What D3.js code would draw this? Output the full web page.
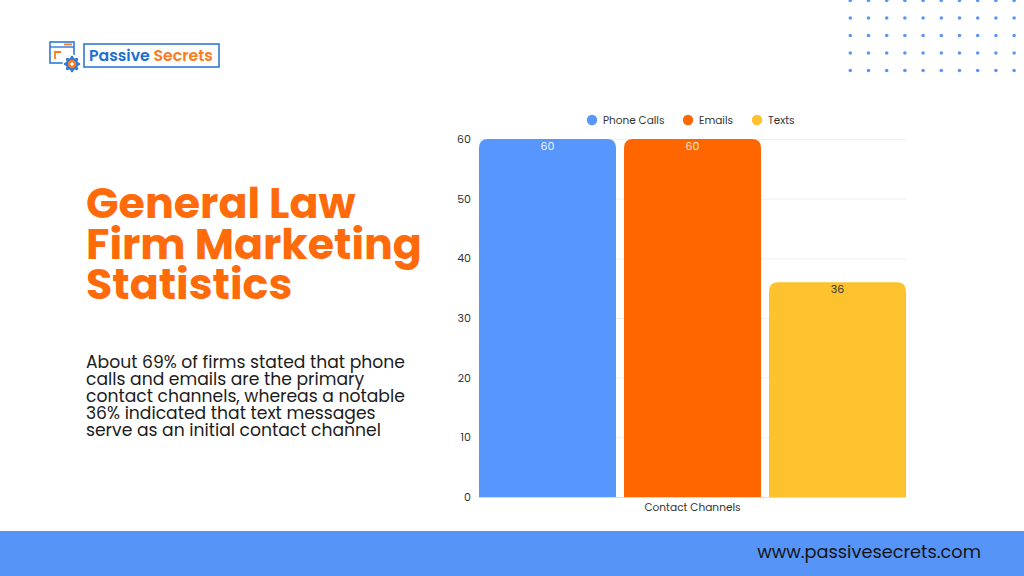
<!DOCTYPE html>
<html><head><meta charset="utf-8">
<script src="https://cdn.jsdelivr.net/npm/d3@7"></script>
<style>
html,body{margin:0;padding:0;background:#fff;}
svg{display:block;}
</style></head>
<body>
<svg id="c" width="1024" height="576"></svg>
<script>
const categories = ["Contact Channels"];
const seriesNames = ["Phone Calls", "Emails", "Texts"];
const seriesValues = [60, 60, 36];
const seriesColors = ["#5796FD", "#FF6600", "#FFC22F"];
const labelColors = ["#EEF3FF", "#FFE9DA", "#333333"];
const yTicks = [0, 10, 20, 30, 40, 50, 60];
const titleLines = ["General Law", "Firm Marketing", "Statistics"];
const bodyLines = ["About 69% of firms stated that phone", "calls and emails are the primary", "contact channels, whereas a notable", "36% indicated that text messages", "serve as an initial contact channel"];
const footerText = "www.passivesecrets.com";

const svg = d3.select("#c");
const FONT = "Poppins, 'Open Sans', Lato, sans-serif";

function fitWidth(sel, target) {
  const n = sel.node();
  const w = n.getComputedTextLength();
  const fs = +sel.attr("font-size");
  sel.attr("font-size", fs * target / w);
}

// decorative dots
const dotCols = d3.range(10), dotRows = d3.range(5);
const dg = svg.append("g");
dotRows.forEach(r => dotCols.forEach(c => {
  dg.append("circle").attr("cx", 850.3 + c * 18.2).attr("cy", 0.5 + r * 17.5).attr("r", 1.8).attr("fill", "#5B96F7");
}));

// footer
svg.append("rect").attr("x", 0).attr("y", 531).attr("width", 1024).attr("height", 45).attr("fill", "#5794F7");
const ft = svg.append("text").attr("x", 981).attr("y", 558).attr("text-anchor", "end")
  .attr("font-family", FONT).attr("font-size", 18).attr("fill", "#141414").text(footerText);
fitWidth(ft, 224);

// logo
const lg = svg.append("g");
lg.append("rect").attr("x", 50).attr("y", 42).attr("width", 24).attr("height", 21).attr("fill", "none").attr("stroke", "#2F78D8").attr("stroke-width", 1.6);
lg.append("line").attr("x1", 50).attr("x2", 74).attr("y1", 47).attr("y2", 47).attr("stroke", "#2F78D8").attr("stroke-width", 1.4);
lg.append("rect").attr("x", 64).attr("y", 43.5).attr("width", 8).attr("height", 1.8).attr("fill", "#FF7A1A");
lg.append("path").attr("d", "M55 59 V52 H61").attr("fill", "none").attr("stroke", "#FF7A1A").attr("stroke-width", 1.8);
const gx = 72, gy = 64;
const gearPts = [];
const nT = 8;
for (let i = 0; i < nT * 4; i++) {
  const a = (i - 0.5) / (nT * 4) * 2 * Math.PI;
  const rr = (Math.floor(i / 2) % 2 === 0) ? 8.2 : 6.2;
  gearPts.push([gx + rr * Math.cos(a), gy + rr * Math.sin(a)]);
}
lg.append("circle").attr("cx", gx).attr("cy", gy).attr("r", 9.5).attr("fill", "#fff");
lg.append("path").attr("d", d3.line().curve(d3.curveLinearClosed)(gearPts)).attr("fill", "#2F78D8");
lg.append("circle").attr("cx", gx).attr("cy", gy).attr("r", 4.2).attr("fill", "#FF7A1A");
lg.append("circle").attr("cx", gx).attr("cy", gy).attr("r", 1.8).attr("fill", "#fff");
lg.append("rect").attr("x", 84).attr("y", 44).attr("width", 135).attr("height", 23).attr("fill", "#fff").attr("stroke", "#2F78D8").attr("stroke-width", 1.6);
const lt = lg.append("text").attr("x", 89).attr("y", 61).attr("font-family", FONT).attr("font-size", 17).attr("font-weight", 600);
lt.append("tspan").attr("fill", "#1F6FD0").text("Passive ");
lt.append("tspan").attr("fill", "#FF7A1A").text("Secrets");
fitWidth(lt, 124);

// title
const tt = svg.append("g");
const titleBase = [218, 258.5, 299];
const titleSize = 44;
titleLines.forEach((l, i) => {
  tt.append("text").attr("x", 86).attr("y", titleBase[i]).attr("font-family", FONT)
    .attr("font-weight", 700).attr("font-size", titleSize).attr("fill", "#FF6A0A").text(l);
});
{
  const w = tt.selectAll("text").nodes()[1].getComputedTextLength();
  const s = titleSize * 336 / w;
  tt.selectAll("text").attr("font-size", Math.min(s, 48));
}

// body
const bg = svg.append("g");
bodyLines.forEach((l, i) => {
  bg.append("text").attr("x", 86).attr("y", 368 + i * 17).attr("font-family", FONT)
    .attr("font-size", 18).attr("fill", "#1c1c1c").text(l);
});
{
  const w = bg.selectAll("text").nodes()[2].getComputedTextLength();
  bg.selectAll("text").attr("font-size", 18 * 319 / w);
}

// chart
const plotLeft = 479, plotRight = 906, plotTop = 139, plotBottom = 497;
const y = d3.scaleLinear().domain([0, 60]).range([plotBottom, plotTop]);
const x0 = d3.scaleBand().domain(categories).range([plotLeft, plotRight]).padding(0);
const x1 = d3.scaleBand().domain(seriesNames).range([0, x0.bandwidth()]).paddingInner(8 / 145).paddingOuter(0);

const chart = svg.append("g");
chart.append("g").selectAll("line").data(yTicks).join("line")
  .attr("x1", plotLeft).attr("x2", plotRight).attr("y1", d => y(d) + 0.5).attr("y2", d => y(d) + 0.5)
  .attr("stroke", d => d === 0 ? "#dcdcdc" : "#eeeeee").attr("stroke-width", 1);

const yAxis = d3.axisLeft(y).tickValues(yTicks).tickSize(0).tickPadding(0);
const ya = chart.append("g").attr("transform", `translate(471,0)`).call(yAxis);
ya.select(".domain").remove();
ya.selectAll("text").attr("font-family", FONT).attr("font-size", 11).attr("fill", "#333");

function topRounded(xp, yp, w, h, r) {
  r = Math.min(r, h, w / 2);
  return `M${xp},${yp + h} V${yp + r} Q${xp},${yp} ${xp + r},${yp} H${xp + w - r} Q${xp + w},${yp} ${xp + w},${yp + r} V${yp + h} Z`;
}

const data = seriesNames.map((s, i) => ({ cat: categories[0], s, v: seriesValues[i], color: seriesColors[i], lc: labelColors[i] }));
const bars = chart.append("g").selectAll("g").data(data).join("g")
  .attr("transform", d => `translate(${x0(d.cat) + x1(d.s)},0)`);
bars.append("path").attr("d", d => topRounded(0, y(d.v), x1.bandwidth(), y(0) - y(d.v), 9)).attr("fill", d => d.color);
bars.append("text").attr("x", x1.bandwidth() / 2).attr("y", d => y(d.v) + 11).attr("text-anchor", "middle")
  .attr("font-family", FONT).attr("font-size", 11).attr("fill", d => d.lc).text(d => d.v);

const xAxis = d3.axisBottom(x0).tickSize(0).tickPadding(0);
const xa = chart.append("g").attr("transform", `translate(0,${plotBottom + 13})`).call(xAxis);
xa.select(".domain").remove();
xa.selectAll("text").attr("font-family", FONT).attr("font-size", 10.6).attr("fill", "#333").attr("dy", "0.1em");

const legendX = [592, 688, 757];
const leg = svg.append("g").selectAll("g").data(seriesNames).join("g")
  .attr("transform", (d, i) => `translate(${legendX[i]},120)`);
leg.append("circle").attr("r", 5.2).attr("fill", (d, i) => seriesColors[i]);
leg.append("text").attr("x", 11).attr("y", 3.8).attr("font-family", FONT).attr("font-size", 10.5).attr("fill", "#333").text(d => d);
</script>
</body></html>
